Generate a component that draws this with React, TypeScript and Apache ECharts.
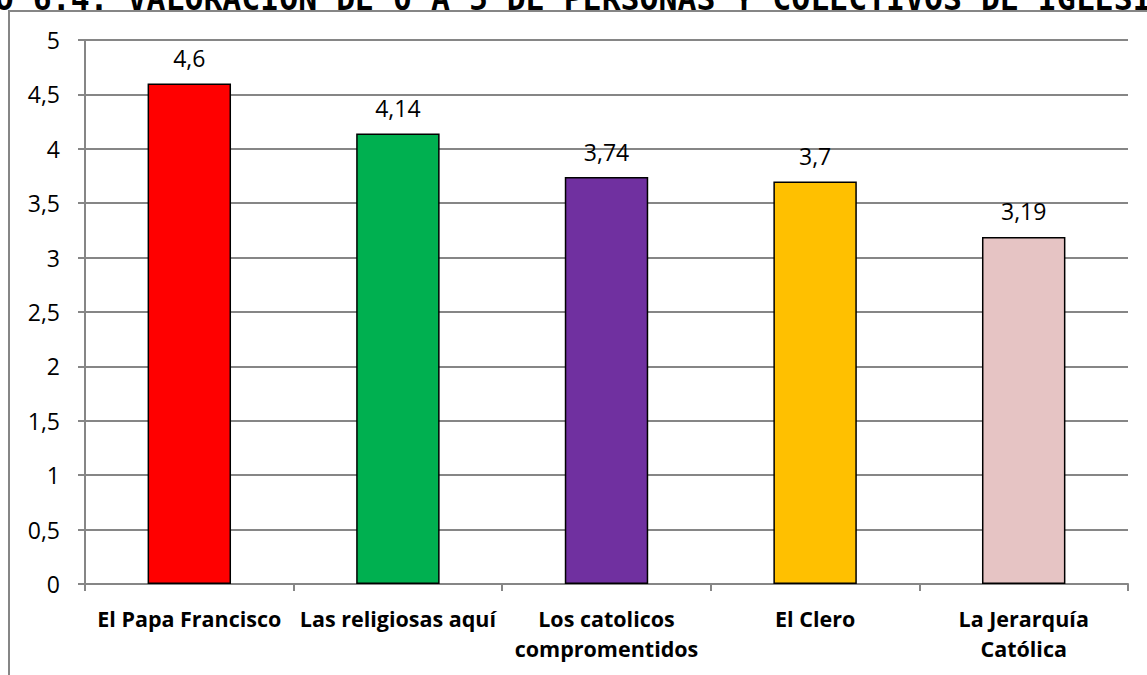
import React, { useEffect, useRef } from "react";
import * as echarts from "echarts";

const categories = [
  "El Papa Francisco",
  "Las religiosas aquí",
  "Los catolicos\ncompromentidos",
  "El Clero",
  "La Jerarquía\nCatólica",
];
const values = [4.6, 4.14, 3.74, 3.7, 3.19];
const barColors = ["#FF0000", "#00B050", "#7030A0", "#FFC000", "#E6C4C4"];
const yTicks = [0, 0.5, 1, 1.5, 2, 2.5, 3, 3.5, 4, 4.5, 5];
const titleText = "GRÁFICO 6.4: VALORACIÓN DE 0 A 5 DE PERSONAS Y COLECTIVOS DE IGLESIA";

const fmt = (v: number) => String(v).replace(".", ",");
const FONT = "'Open Sans', 'Noto Sans', sans-serif";

export default function App() {
  const ref = useRef<HTMLDivElement>(null);
  useEffect(() => {
    const chart = echarts.init(ref.current!, null, { renderer: "svg" });
    chart.setOption({
      animation: false,
      backgroundColor: "#ffffff",
      textStyle: { fontFamily: FONT },
      graphic: [
        {
          type: "rect",
          shape: { x: 9, y: 11, width: 1200, height: 700 },
          style: { fill: "none", stroke: "#868686", lineWidth: 2 },
          silent: true,
        },
        {
          type: "text",
          x: -119,
          y: -1,
          style: {
            text: titleText,
            fill: "#000",
            font: "bold 31.5px 'DejaVu Sans Mono', monospace",
            textAlign: "left",
            textVerticalAlign: "middle",
          },
        },
      ],
      grid: { left: 85, right: 19, top: 40, bottom: 91 },
      xAxis: {
        type: "category",
        data: categories,
        axisLine: { show: true, lineStyle: { color: "#868686", width: 2 } },
        axisTick: { show: true, length: 7, lineStyle: { color: "#868686", width: 2 } },
        axisLabel: {
          color: "#000",
          fontWeight: "bold",
          fontSize: 21.5,
          fontFamily: FONT,
          lineHeight: 30,
          margin: 19,
          interval: 0,
        },
      },
      yAxis: {
        type: "value",
        min: 0,
        max: 5,
        interval: 0.5,
        axisLine: { show: true, lineStyle: { color: "#868686", width: 2 } },
        axisTick: { show: true, length: 7, lineStyle: { color: "#868686", width: 2 } },
        splitLine: { show: true, lineStyle: { color: "#868686", width: 2 } },
        axisLabel: {
          color: "#000",
          fontSize: 23,
          fontFamily: FONT,
          margin: 25,
          formatter: (v: number) => (yTicks.includes(v) ? fmt(v) : ""),
        },
      },
      series: [
        {
          type: "bar",
          data: values.map((v, i) => ({
            value: v,
            itemStyle: { color: barColors[i], borderColor: "#000", borderWidth: 1.5 },
          })),
          barWidth: "40%",
          label: {
            show: true,
            position: "top",
            distance: 14,
            color: "#000",
            fontSize: 23,
            fontFamily: FONT,
            formatter: (p: any) => fmt(p.value),
          },
        },
      ],
    });
    return () => chart.dispose();
  }, []);
  return (
    <div
      ref={ref}
      style={{ position: "absolute", left: 0, top: 0, width: 1147, height: 675 }}
    />
  );
}
